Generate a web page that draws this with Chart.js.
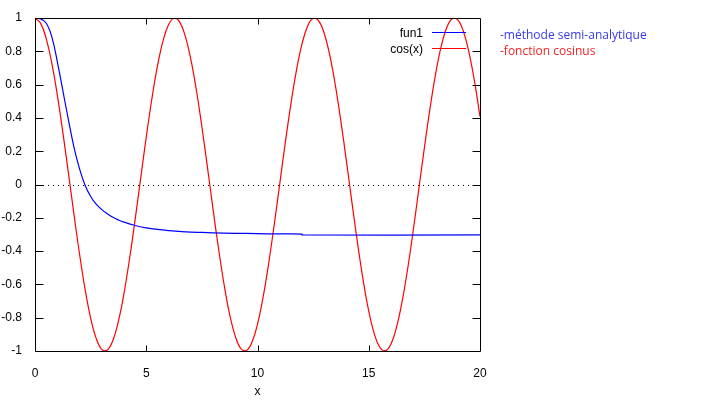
<!DOCTYPE html>
<html>
<head>
<meta charset="utf-8">
<script src="https://cdn.jsdelivr.net/npm/chart.js@4/dist/chart.umd.min.js"></script>
<style>
  html, body { margin: 0; padding: 0; background: #fff; }
  #wrap { width: 705px; height: 410px; }
</style>
</head>
<body>
<div id="wrap"><canvas id="graphe"></canvas></div>
<script>
// donnees
let xTicks = [0, 5, 10, 15, 20]
let yTicks = [-1, -0.8, -0.6, -0.4, -0.2, 0, 0.2, 0.4, 0.6, 0.8, 1]

// fun1 (methode semi-analytique)
let fun1X = [0, 0.25, 0.5, 0.75, 1, 1.25, 1.5, 1.75, 2, 2.25, 2.5, 2.75, 3, 3.25, 3.5, 3.75, 4, 4.5, 5, 5.5, 6, 6.5, 7, 7.5, 8, 9, 10, 11, 12, 12, 20]
let fun1Y = [1, 0.995, 0.97, 0.89, 0.74, 0.565, 0.39, 0.225, 0.095, -0.005, -0.072, -0.118, -0.151, -0.176, -0.197, -0.213, -0.226, -0.246, -0.26, -0.27, -0.277, -0.282, -0.286, -0.288, -0.29, -0.293, -0.295, -0.297, -0.298, -0.303, -0.303]

// cos(x), un point tous les 0.25
let cosX = [0, 0.25, 0.5, 0.75, 1, 1.25, 1.5, 1.75, 2, 2.25, 2.5, 2.75, 3, 3.25, 3.5, 3.75, 4, 4.25, 4.5, 4.75,
  5, 5.25, 5.5, 5.75, 6, 6.25, 6.5, 6.75, 7, 7.25, 7.5, 7.75, 8, 8.25, 8.5, 8.75, 9, 9.25, 9.5, 9.75,
  10, 10.25, 10.5, 10.75, 11, 11.25, 11.5, 11.75, 12, 12.25, 12.5, 12.75, 13, 13.25, 13.5, 13.75, 14, 14.25, 14.5, 14.75,
  15, 15.25, 15.5, 15.75, 16, 16.25, 16.5, 16.75, 17, 17.25, 17.5, 17.75, 18, 18.25, 18.5, 18.75, 19, 19.25, 19.5, 19.75, 20]
let cosY = [1, 0.969, 0.878, 0.732, 0.54, 0.315, 0.071, -0.178, -0.416, -0.628, -0.801, -0.924, -0.99, -0.994, -0.937, -0.821, -0.654, -0.446, -0.211, 0.038,
  0.284, 0.512, 0.709, 0.861, 0.96, 0.999, 0.977, 0.893, 0.754, 0.569, 0.347, 0.104, -0.146, -0.386, -0.602, -0.782, -0.911, -0.985, -0.997, -0.948,
  -0.839, -0.678, -0.476, -0.243, 0.004, 0.252, 0.483, 0.686, 0.844, 0.951, 0.998, 0.983, 0.907, 0.775, 0.595, 0.378, 0.137, -0.113, -0.355, -0.576,
  -0.76, -0.897, -0.979, -0.999, -0.958, -0.857, -0.702, -0.506, -0.275, -0.028, 0.22, 0.454, 0.66, 0.826, 0.94, 0.995, 0.989, 0.921, 0.796, 0.622, 0.408]

let legendes = ['-méthode semi-analytique', '-fonction cosinus']

function enPoints(xs, ys) {
    return xs.map((x, i) => ({ x: x, y: ys[i] }))
}

const police = '12px "Liberation Sans", Arial, sans-serif'

// cadre, graduations interieures, axe du zero, legende
const decor = {
    id: 'decor',
    beforeDatasetsDraw(chart) {
        const c = chart.ctx
        const sy = chart.scales.y
        const a = chart.chartArea
        c.save()
        // ligne pointillee y=0
        c.strokeStyle = '#000'
        c.lineWidth = 1
        c.setLineDash([1, 4])
        let y0 = Math.round(sy.getPixelForValue(0)) + 0.5
        c.beginPath(); c.moveTo(a.left + 8, y0); c.lineTo(a.right, y0); c.stroke()
        c.restore()
    },
    afterDatasetsDraw(chart) {
        const c = chart.ctx
        const sx = chart.scales.x, sy = chart.scales.y
        const a = chart.chartArea
        const L = Math.round(a.left) + 0.5, R = Math.round(a.right) + 0.5
        const T = Math.round(a.top) + 0.5, B = Math.round(a.bottom) + 0.5
        c.save()
        c.strokeStyle = '#000'
        c.lineWidth = 1
        c.beginPath()
        c.rect(L, T, R - L, B - T)
        xTicks.forEach(v => {
            let p = Math.round(sx.getPixelForValue(v)) + 0.5
            if (v > 0 && v < 20) {
                c.moveTo(p, B); c.lineTo(p, B - 6)
                c.moveTo(p, T); c.lineTo(p, T + 6)
            }
        })
        yTicks.forEach(v => {
            let p = Math.round(sy.getPixelForValue(v)) + 0.5
            if (v > -1 && v < 1) {
                c.moveTo(L, p); c.lineTo(L + 8, p)
                c.moveTo(R, p); c.lineTo(R - 8, p)
            }
        })
        c.stroke()

        // legende style gnuplot
        c.font = police
        c.textBaseline = 'middle'
        chart.data.datasets.forEach((ds, i) => {
            let y = 33 + i * 16
            c.fillStyle = '#000'
            c.textAlign = 'right'
            c.fillText(ds.label, 423, y + 1)
            c.strokeStyle = ds.borderColor
            c.beginPath(); c.moveTo(432, y - 0.5); c.lineTo(466, y - 0.5); c.stroke()
        })

        // notes a droite
        c.font = '12px "Open Sans", "Noto Sans", sans-serif'
        c.textAlign = 'left'
        const couleurs = ['#3838ee', '#ee2424']
        legendes.forEach((t, i) => {
            c.fillStyle = couleurs[i]
            c.fillText(t, 500, 36 + i * 16)
        })
        c.restore()
    }
}

const ctx = document.getElementById('graphe').getContext('2d')
const graphe = new Chart(ctx, {
    type: 'scatter',
    data: {
        datasets: [{
            label: 'fun1',
            data: enPoints(fun1X, fun1Y),
            showLine: true,
            borderColor: '#0000ff',
            borderWidth: 1.2,
            pointRadius: 0,
            tension: 0.4
        }, {
            label: 'cos(x)',
            data: enPoints(cosX, cosY),
            showLine: true,
            borderColor: '#ff0000',
            borderWidth: 1.2,
            pointRadius: 0,
            tension: 0.4
        }]
    },
    options: {
        responsive: true,
        maintainAspectRatio: false,
        animation: false,
        layout: { padding: { top: 18, right: 225, left: 0, bottom: 0 } },
        plugins: { legend: { display: false }, tooltip: { enabled: false } },
        scales: {
            x: {
                type: 'linear',
                min: 0, max: 20,
                afterBuildTicks: s => { s.ticks = xTicks.map(v => ({ value: v })) },
                afterFit: s => { s.height = 59 },
                grid: { display: false },
                border: { display: false },
                ticks: { color: '#000', font: { family: '"Liberation Sans", Arial, sans-serif', size: 12 }, padding: 7, maxRotation: 0 },
                title: { display: true, text: 'x', color: '#000', font: { family: '"Liberation Sans", Arial, sans-serif', size: 12 }, padding: { top: 0, bottom: 11 } }
            },
            y: {
                type: 'linear',
                min: -1, max: 1,
                afterBuildTicks: s => { s.ticks = yTicks.map(v => ({ value: v })) },
                afterFit: s => { s.width = 35 },
                grid: { display: false },
                border: { display: false },
                ticks: {
                    color: '#000',
                    font: { family: '"Liberation Sans", Arial, sans-serif', size: 12 },
                    padding: 5,
                    callback: v => String(Math.round(v * 10) / 10)
                }
            }
        }
    },
    plugins: [decor]
})
</script>
</body>
</html>
